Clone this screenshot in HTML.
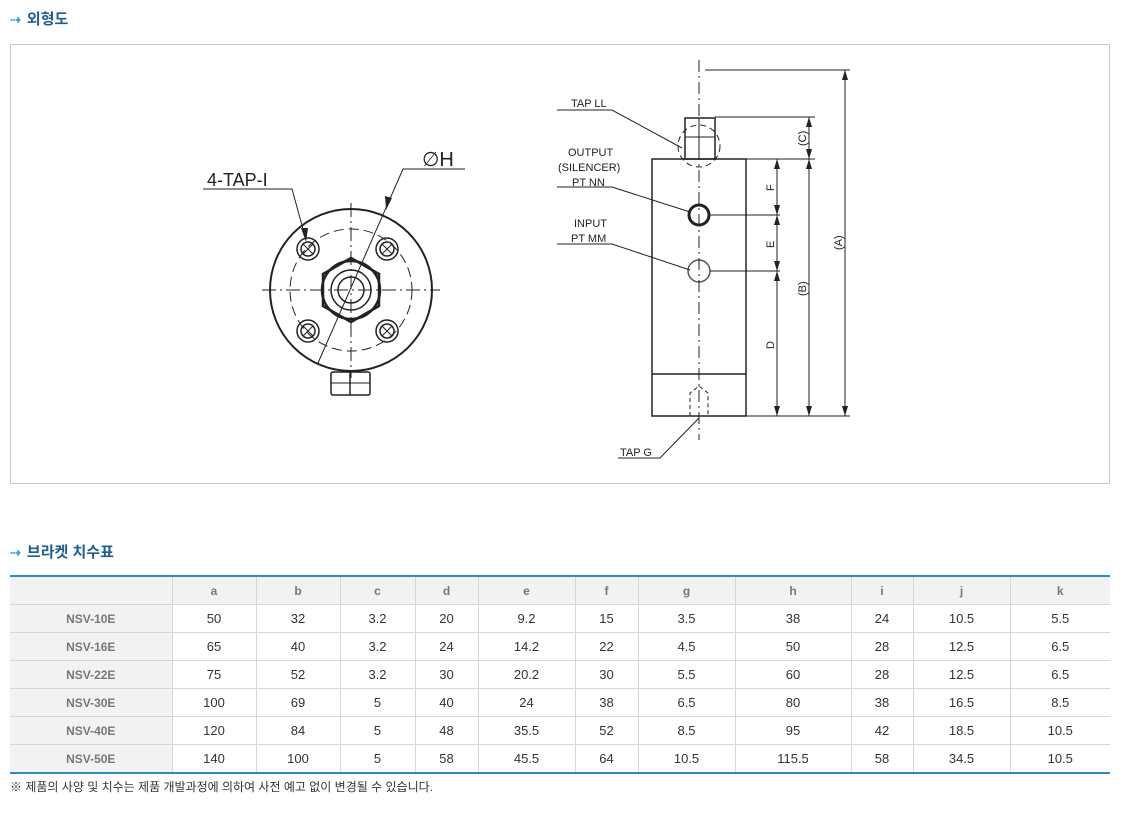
<!DOCTYPE html>
<html><head><meta charset="utf-8"><style>
body{margin:0;background:#fff;width:1127px;height:817px;position:relative;font-family:"Liberation Sans","Noto Sans CJK KR",sans-serif;}
.h{position:absolute;left:10px;font-size:15px;font-weight:bold;color:#1f5d96;}
.h span{color:#3aa0d8;font-size:13px;margin-right:6px;}
table{position:absolute;left:10px;top:575px;width:1100px;border-collapse:collapse;border-top:2px solid #2f8ac4;border-bottom:2px solid #2f8ac4;font-size:13px;color:#333;}
td{border:1px solid #d6d6d6;height:27px;text-align:center;padding:0;}
tr:first-child td{background:#f2f2f2;font-weight:bold;color:#777;font-size:12px;}
td:first-child{background:#f2f2f2;font-weight:bold;color:#777;font-size:12px;}
td:first-child{border-left:none}td:last-child{border-right:none}
.note{position:absolute;left:10px;top:778px;font-size:12px;color:#333;}
</style></head><body>
<div class="h" style="top:8px"><span>⇢</span>외형도</div>
<div style="position:absolute;left:10px;top:44px;width:1098px;height:438px;border:1px solid #c8c8c8"></div>
<svg style="position:absolute;left:0;top:0" width="1127" height="500" font-family="Liberation Sans,sans-serif">
<g stroke="#222" fill="none" stroke-width="1.5">
<circle cx="351" cy="290" r="81" stroke-width="2"/>
<circle cx="351" cy="290" r="61" stroke-dasharray="10,5" stroke-width="1"/>
<line x1="262" y1="290" x2="440" y2="290" stroke-dasharray="14,4,2,4" stroke-width="1"/>
<line x1="351" y1="203" x2="351" y2="378" stroke-dasharray="14,4,2,4" stroke-width="1"/>
<g id="b"><circle cx="308" cy="249" r="11"/><circle cx="308" cy="249" r="7"/><path d="M303 244l10 10M313 244l-10 10" stroke-width="1"/></g>
<use href="#b" x="79"/><use href="#b" y="82"/><use href="#b" x="79" y="82"/>
<polygon points="351,258 379,274 379,306 351,322 323,306 323,274" stroke-width="2.5"/>
<circle cx="351" cy="290" r="29" stroke-width="2.5"/>
<circle cx="351" cy="290" r="20"/><circle cx="351" cy="290" r="13"/>
<rect x="331" y="372" width="39" height="23" rx="2"/><line x1="350" y1="372" x2="350" y2="395"/>
<line x1="331" y1="383" x2="370" y2="383" stroke-width="1"/>
<polyline points="203,189 292,189 306,240" stroke-width="1"/>
<polyline points="465,169 403,169 318,363" stroke-width="1"/>
</g>
<polygon points="306,242 301,228 308,228" fill="#222"/>
<polygon points="386,210 385,196 392,198" fill="#222"/>
<text x="207" y="186" font-size="18" fill="#222">4-TAP-I</text>
<text x="422" y="166" font-size="20" fill="#222">∅H</text>
<g stroke="#222" fill="none" stroke-width="1.5">
<rect x="652" y="159" width="94" height="257"/>
<line x1="652" y1="374" x2="746" y2="374"/>
<rect x="685" y="118" width="30" height="41"/><line x1="685" y1="137" x2="715" y2="137" stroke-width="1"/><line x1="699" y1="118" x2="699" y2="159" stroke-width="1"/>
<circle cx="699" cy="146" r="21" stroke-dasharray="6,4" stroke-width="1"/>
<circle cx="699" cy="215" r="10" stroke-width="3"/>
<circle cx="699" cy="271" r="11" stroke="#555"/>
<path d="M690 416V393l9-7 9 7v23" stroke-dasharray="4,3" stroke-width="1"/>
<line x1="699" y1="60" x2="699" y2="440" stroke-dasharray="12,4,2,4" stroke-width="1"/>
<g stroke-width="1">
<line x1="705" y1="70" x2="850" y2="70"/><line x1="715" y1="117" x2="815" y2="117"/>
<line x1="746" y1="159" x2="815" y2="159"/><line x1="710" y1="215" x2="780" y2="215"/>
<line x1="710" y1="271" x2="780" y2="271"/><line x1="746" y1="416" x2="850" y2="416"/>
<line x1="777" y1="159" x2="777" y2="416"/><line x1="809" y1="117" x2="809" y2="416"/><line x1="845" y1="70" x2="845" y2="416"/>
<polyline points="557,110 612,110 682,148"/><polyline points="557,187 612,187 690,212"/>
<polyline points="557,244 612,244 690,270"/><polyline points="618,458 660,458 699,418"/>
</g></g>
<g fill="#222">
<polygon points="845,70 842,80 848,80"/><polygon points="845,416 842,406 848,406"/>
<polygon points="809,117 806,127 812,127"/><polygon points="809,159 806,149 812,149"/><polygon points="809,159 806,169 812,169"/><polygon points="809,416 806,406 812,406"/>
<polygon points="777,159 774,169 780,169"/><polygon points="777,215 774,205 780,205"/><polygon points="777,215 774,225 780,225"/>
<polygon points="777,271 774,261 780,261"/><polygon points="777,271 774,281 780,281"/><polygon points="777,416 774,406 780,406"/>
</g>
<g font-size="11" fill="#222">
<text x="571" y="107">TAP LL</text><text x="568" y="156">OUTPUT</text><text x="558" y="171">(SILENCER)</text><text x="572" y="186">PT NN</text>
<text x="574" y="227">INPUT</text><text x="571" y="242">PT MM</text><text x="620" y="456">TAP G</text>
<text transform="translate(774,191) rotate(-90)">F</text><text transform="translate(774,248) rotate(-90)">E</text><text transform="translate(774,349) rotate(-90)">D</text>
<text transform="translate(806,146) rotate(-90)">(C)</text><text transform="translate(806,296) rotate(-90)">(B)</text><text transform="translate(842,250) rotate(-90)">(A)</text>
</g>
</svg>
<div class="h" style="top:541px"><span>⇢</span>브라켓 치수표</div>
<table>
<colgroup><col style="width:162px"><col style="width:84px"><col style="width:84px"><col style="width:75px"><col style="width:63px"><col style="width:97px"><col style="width:63px"><col style="width:97px"><col style="width:116px"><col style="width:62px"><col style="width:97px"><col style="width:100px"></colgroup>
<tr><td></td><td>a</td><td>b</td><td>c</td><td>d</td><td>e</td><td>f</td><td>g</td><td>h</td><td>i</td><td>j</td><td>k</td></tr>
<tr><td>NSV-10E</td><td>50</td><td>32</td><td>3.2</td><td>20</td><td>9.2</td><td>15</td><td>3.5</td><td>38</td><td>24</td><td>10.5</td><td>5.5</td></tr>
<tr><td>NSV-16E</td><td>65</td><td>40</td><td>3.2</td><td>24</td><td>14.2</td><td>22</td><td>4.5</td><td>50</td><td>28</td><td>12.5</td><td>6.5</td></tr>
<tr><td>NSV-22E</td><td>75</td><td>52</td><td>3.2</td><td>30</td><td>20.2</td><td>30</td><td>5.5</td><td>60</td><td>28</td><td>12.5</td><td>6.5</td></tr>
<tr><td>NSV-30E</td><td>100</td><td>69</td><td>5</td><td>40</td><td>24</td><td>38</td><td>6.5</td><td>80</td><td>38</td><td>16.5</td><td>8.5</td></tr>
<tr><td>NSV-40E</td><td>120</td><td>84</td><td>5</td><td>48</td><td>35.5</td><td>52</td><td>8.5</td><td>95</td><td>42</td><td>18.5</td><td>10.5</td></tr>
<tr><td>NSV-50E</td><td>140</td><td>100</td><td>5</td><td>58</td><td>45.5</td><td>64</td><td>10.5</td><td>115.5</td><td>58</td><td>34.5</td><td>10.5</td></tr>
</table>
<div class="note">※ 제품의 사양 및 치수는 제품 개발과정에 의하여 사전 예고 없이 변경될 수 있습니다.</div>
</body></html>
